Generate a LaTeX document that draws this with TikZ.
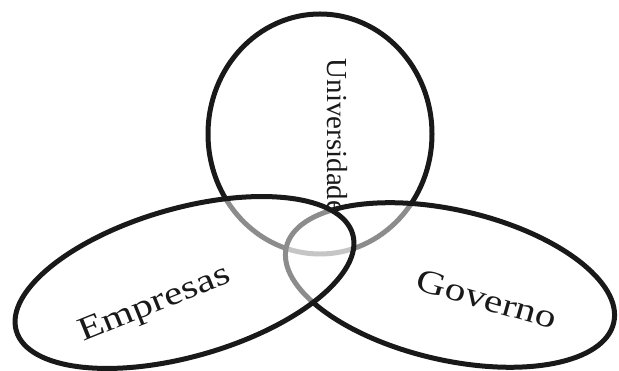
\documentclass[tikz,border=0pt]{standalone}
\usepackage{fontspec}
\setmainfont{Liberation Serif}
\newfontfamily\largafont[FakeStretch=1.25]{Liberation Serif}
\usepackage{tikz}

\tikzset{
  elipse/.style={draw=black!90, line width=5pt, fill=white, fill opacity=0.5},
  rotulo/.style={inner sep=0pt, text=black!90}
}

\begin{document}
\begin{tikzpicture}[x=1pt,y=1pt]
\useasboundingbox (0,0) rectangle (619,371);
% as tres esferas
\draw[elipse] (320,237) ellipse (112pt and 120pt);
\draw[elipse, rotate around={-13:(450,86)}] (450,86) ellipse (168pt and 75pt);
\draw[elipse, rotate around={16:(184.5,88.5)}] (184.5,88.5) ellipse (175pt and 74pt);
\node[rotulo, rotate=-90, font=\fontsize{29}{30}\selectfont] (univ) at (337,235) {Universidade};
\node[rotulo, rotate=22, font=\largafont\fontsize{33}{34}\selectfont] (empresas) at (155,66) {Empresas};
\node[rotulo, rotate=-16, font=\largafont\fontsize{33}{34}\selectfont] (governo) at (487,72) {Governo};
\end{tikzpicture}
\end{document}
